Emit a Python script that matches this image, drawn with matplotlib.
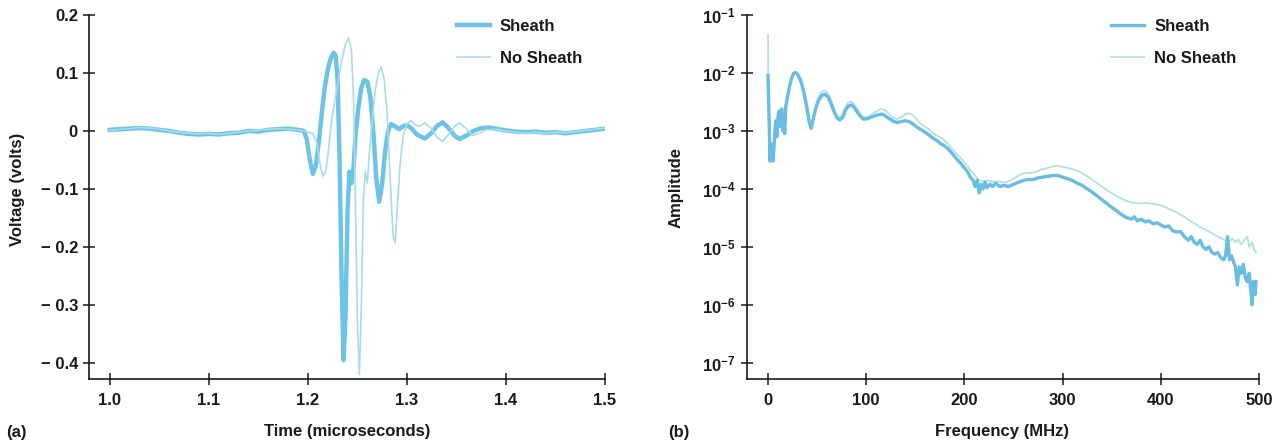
import matplotlib
matplotlib.use("Agg")
import matplotlib.pyplot as plt
from matplotlib.ticker import FixedLocator, FixedFormatter

plt.rcParams['font.family'] = ['Liberation Sans', 'DejaVu Sans']
plt.rcParams['mathtext.default'] = 'regular'

# ---------------- Panel (a): time domain ----------------
time_sheath = [1.000, 1.010, 1.020, 1.030, 1.040, 1.050, 1.060, 1.070, 1.080, 1.090,
               1.100, 1.110, 1.120, 1.130, 1.140, 1.150, 1.160, 1.170, 1.180, 1.190,
               1.196, 1.199, 1.202, 1.205, 1.208, 1.211, 1.214, 1.217, 1.220, 1.223,
               1.226, 1.228, 1.230, 1.232, 1.234, 1.236, 1.238, 1.240, 1.242, 1.244,
               1.246, 1.248, 1.251, 1.254, 1.257, 1.260, 1.263, 1.266, 1.269, 1.272,
               1.275, 1.278, 1.281, 1.284, 1.288, 1.292, 1.296, 1.300, 1.305, 1.310,
               1.318, 1.325, 1.330, 1.336, 1.342, 1.348, 1.353, 1.360, 1.367, 1.375,
               1.383, 1.390, 1.400, 1.410, 1.420, 1.430, 1.440, 1.450, 1.460, 1.470,
               1.480, 1.490, 1.500]
volt_sheath = [0.002, 0.003, 0.004, 0.005, 0.004, 0.002, 0.000, -0.003, -0.005, -0.006,
               -0.005, -0.006, -0.004, -0.003, 0.000, -0.001, 0.002, 0.003, 0.004, 0.002,
               0.000, -0.015, -0.050, -0.074, -0.060, -0.020, 0.030, 0.075, 0.105, 0.125,
               0.135, 0.130, 0.090, -0.050, -0.250, -0.395, -0.320, -0.140, -0.070, -0.090,
               -0.065, -0.010, 0.040, 0.075, 0.088, 0.085, 0.060, 0.000, -0.080, -0.122,
               -0.090, -0.035, 0.000, 0.012, 0.008, 0.003, 0.008, 0.010, 0.004, -0.006,
               -0.013, -0.003, 0.008, 0.015, 0.005, -0.008, -0.014, -0.008, 0.000, 0.005,
               0.006, 0.004, 0.001, -0.001, -0.002, -0.001, -0.003, -0.002, -0.004, -0.002,
               0.000, 0.002, 0.004]

time_nosheath = [1.000, 1.010, 1.020, 1.030, 1.040, 1.050, 1.060, 1.070, 1.080, 1.090,
                 1.100, 1.110, 1.120, 1.130, 1.140, 1.150, 1.160, 1.170, 1.180, 1.190,
                 1.200, 1.205, 1.209, 1.212, 1.215, 1.218, 1.221, 1.224, 1.227, 1.230,
                 1.234, 1.238, 1.241, 1.244, 1.246, 1.248, 1.250, 1.252, 1.254, 1.256,
                 1.258, 1.260, 1.262, 1.265, 1.268, 1.271, 1.274, 1.277, 1.280, 1.283,
                 1.286, 1.288, 1.290, 1.293, 1.296, 1.300, 1.304, 1.309, 1.313, 1.318,
                 1.325, 1.330, 1.336, 1.342, 1.348, 1.353, 1.360, 1.366, 1.373, 1.380,
                 1.390, 1.400, 1.410, 1.420, 1.430, 1.440, 1.450, 1.460, 1.470, 1.480,
                 1.490, 1.500]
volt_nosheath = [0.001, 0.003, 0.004, 0.006, 0.005, 0.003, 0.000, -0.002, -0.004, -0.005,
                 -0.004, -0.006, -0.004, -0.002, 0.000, 0.001, 0.003, 0.004, 0.003, 0.002,
                 -0.002, -0.004, -0.020, -0.055, -0.078, -0.070, -0.030, 0.020, 0.050, 0.080,
                 0.120, 0.150, 0.160, 0.140, 0.060, -0.120, -0.330, -0.420, -0.300, -0.120,
                 -0.070, -0.090, -0.040, 0.020, 0.070, 0.100, 0.110, 0.090, 0.030, -0.080,
                 -0.180, -0.193, -0.140, -0.060, -0.010, 0.012, 0.018, 0.010, 0.008, 0.014,
                 0.004, -0.010, -0.018, -0.006, 0.008, 0.014, 0.004, -0.008, -0.004, 0.002,
                 0.003, 0.000, -0.002, -0.004, -0.002, -0.004, -0.002, -0.003, -0.001, 0.001,
                 0.003, 0.005]

a_xticks = [1.0, 1.1, 1.2, 1.3, 1.4, 1.5]
a_xticklabels = ['1.0', '1.1', '1.2', '1.3', '1.4', '1.5']
a_yticks = [0.2, 0.1, 0.0, -0.1, -0.2, -0.3, -0.4]
a_yticklabels = ['0.2', '0.1', '0', '\u2212 0.1', '\u2212 0.2', '\u2212 0.3', '\u2212 0.4']

# ---------------- Panel (b): frequency domain ----------------
freq_sheath = [0, 1, 2, 3, 4, 5, 6, 7, 8, 9, 10, 11, 12, 13, 14, 15, 16, 17, 18, 20,
               22, 24, 26, 28, 30, 33, 36, 39, 42, 44, 46, 49, 52, 55, 58, 61, 64, 67, 70, 73,
               76, 79, 82, 85, 88, 91, 94, 97, 100, 104, 108, 112, 116, 120, 124, 128, 132, 136, 140, 144,
               148, 152, 156, 160, 164, 168, 172, 176, 180, 184, 188, 192, 196, 200, 203, 206, 209, 211, 213, 215,
               217, 219, 221, 223, 226, 229, 232, 236, 240, 245, 250, 255, 260, 265, 270, 275, 280, 285, 290, 295,
               300, 305, 310, 315, 320, 325, 330, 335, 340, 345, 350, 355, 360, 365, 370, 373, 376, 380, 384, 388,
               392, 396, 400, 404, 408, 412, 416, 420, 424, 428, 431, 434, 437, 440, 443, 446, 449, 452, 455, 458,
               461, 464, 466, 468, 470, 472, 474, 476, 478, 480, 482, 484, 486, 488, 490, 492, 493, 494, 496, 497]
amp_sheath = [9e-3, 2e-3, 3e-4, 6e-4, 4e-4, 3e-4, 5e-4, 1.0e-3, 1.5e-3, 8e-4,
              1.6e-3, 2.2e-3, 1.2e-3, 2.0e-3, 2.4e-3, 1.0e-3, 1.8e-3, 9e-4, 2.6e-3, 4.0e-3,
              6.0e-3, 8.0e-3, 9.8e-3, 1.02e-2, 9.5e-3, 7.5e-3, 5.0e-3, 2.8e-3, 1.4e-3, 1.1e-3,
              1.6e-3, 2.6e-3, 3.5e-3, 4.1e-3, 4.3e-3, 3.9e-3, 3.0e-3, 2.2e-3, 1.7e-3, 1.55e-3,
              1.7e-3, 2.3e-3, 2.7e-3, 2.8e-3, 2.5e-3, 2.1e-3, 1.8e-3, 1.6e-3, 1.6e-3, 1.7e-3,
              1.8e-3, 1.9e-3, 1.95e-3, 1.8e-3, 1.6e-3, 1.45e-3, 1.4e-3, 1.45e-3, 1.5e-3, 1.45e-3,
              1.3e-3, 1.15e-3, 1.05e-3, 9.5e-4, 8.5e-4, 7.5e-4, 6.8e-4, 6.0e-4, 5.5e-4, 4.8e-4,
              4.0e-4, 3.3e-4, 2.8e-4, 2.3e-4, 2.0e-4, 1.6e-4, 1.4e-4, 1.1e-4, 1.4e-4, 8.5e-5,
              1.2e-4, 1.0e-4, 1.3e-4, 1.05e-4, 1.2e-4, 1.1e-4, 1.25e-4, 1.1e-4, 1.15e-4, 1.1e-4,
              1.2e-4, 1.3e-4, 1.4e-4, 1.45e-4, 1.45e-4, 1.55e-4, 1.6e-4, 1.65e-4, 1.7e-4, 1.7e-4,
              1.6e-4, 1.5e-4, 1.4e-4, 1.25e-4, 1.15e-4, 1.0e-4, 8.8e-5, 7.6e-5, 6.5e-5, 5.6e-5,
              4.8e-5, 4.2e-5, 3.6e-5, 3.2e-5, 3.0e-5, 3.3e-5, 2.8e-5, 3.0e-5, 2.7e-5, 2.8e-5,
              2.5e-5, 2.6e-5, 2.4e-5, 2.2e-5, 2.3e-5, 1.9e-5, 1.8e-5, 1.85e-5, 1.5e-5, 1.3e-5,
              1.5e-5, 1.2e-5, 1.1e-5, 1.3e-5, 1.0e-5, 9e-6, 1.0e-5, 8e-6, 7.5e-6, 8e-6,
              6.5e-6, 6e-6, 7e-6, 1.5e-5, 6e-6, 7e-6, 5.5e-6, 4.5e-6, 2.2e-6, 4.5e-6,
              3.5e-6, 5e-6, 3e-6, 2.5e-6, 3.5e-6, 1.5e-6, 1.0e-6, 2.5e-6, 1.5e-6, 2.5e-6]

freq_nosheath = [0, 0.5, 1.5, 3, 5, 7, 9, 11, 13, 15, 17, 19, 22, 25, 28, 31, 34, 37, 40, 43,
                 45, 48, 51, 54, 57, 60, 63, 66, 69, 72, 75, 78, 81, 84, 87, 90, 93, 96, 99, 103,
                 107, 111, 115, 119, 123, 127, 131, 135, 139, 143, 147, 151, 155, 159, 163, 167, 171, 175, 179, 183,
                 187, 191, 195, 199, 203, 207, 211, 215, 219, 223, 227, 231, 235, 240, 245, 250, 255, 260, 265, 270,
                 275, 280, 285, 290, 295, 300, 305, 310, 315, 320, 325, 330, 335, 340, 345, 350, 355, 360, 365, 370,
                 375, 380, 385, 390, 395, 400, 405, 410, 415, 420, 425, 430, 435, 440, 445, 450, 455, 460, 465, 470,
                 473, 476, 479, 482, 485, 488, 490, 493, 495, 497]
amp_nosheath = [4.5e-2, 3e-3, 3e-4, 6e-4, 3.5e-4, 1.2e-3, 9e-4, 2.0e-3, 1.4e-3, 2.2e-3,
                1.0e-3, 3.0e-3, 6.5e-3, 9.5e-3, 1.05e-2, 9.5e-3, 7.5e-3, 5.0e-3, 2.8e-3, 1.4e-3,
                1.3e-3, 2.5e-3, 3.7e-3, 4.6e-3, 5.0e-3, 4.7e-3, 3.8e-3, 2.8e-3, 2.0e-3, 1.7e-3,
                1.8e-3, 2.4e-3, 3.0e-3, 3.2e-3, 3.0e-3, 2.5e-3, 2.1e-3, 1.8e-3, 1.7e-3, 1.8e-3,
                2.0e-3, 2.2e-3, 2.4e-3, 2.3e-3, 2.0e-3, 1.7e-3, 1.6e-3, 1.7e-3, 1.9e-3, 2.0e-3,
                1.9e-3, 1.6e-3, 1.35e-3, 1.2e-3, 1.1e-3, 9.5e-4, 8.5e-4, 7.8e-4, 7.0e-4, 6.0e-4,
                5.0e-4, 4.2e-4, 3.6e-4, 3.0e-4, 2.5e-4, 2.0e-4, 1.7e-4, 1.4e-4, 1.35e-4, 1.4e-4,
                1.35e-4, 1.3e-4, 1.35e-4, 1.3e-4, 1.35e-4, 1.5e-4, 1.7e-4, 1.85e-4, 1.9e-4, 1.9e-4,
                2.05e-4, 2.2e-4, 2.3e-4, 2.45e-4, 2.5e-4, 2.4e-4, 2.3e-4, 2.2e-4, 2.05e-4, 1.85e-4,
                1.65e-4, 1.45e-4, 1.25e-4, 1.1e-4, 9.5e-5, 8.5e-5, 7.5e-5, 6.8e-5, 6.2e-5, 5.8e-5,
                5.7e-5, 5.6e-5, 5.7e-5, 5.6e-5, 5.4e-5, 5.2e-5, 4.8e-5, 4.4e-5, 4.0e-5, 3.6e-5,
                3.2e-5, 2.8e-5, 2.5e-5, 2.2e-5, 2.0e-5, 1.8e-5, 1.6e-5, 1.45e-5, 1.3e-5, 1.25e-5,
                1.4e-5, 1.2e-5, 1.35e-5, 1.1e-5, 1.3e-5, 1.5e-5, 1.0e-5, 1.2e-5, 9e-6, 8e-6]

b_xticks = [0, 100, 200, 300, 400, 500]
b_xticklabels = ['0', '100', '200', '300', '400', '500']
b_yticks = [1e-1, 1e-2, 1e-3, 1e-4, 1e-5, 1e-6, 1e-7]
b_yticklabels = ['$10^{-1}$', '$10^{-2}$', '$10^{-3}$', '$10^{-4}$', '$10^{-5}$', '$10^{-6}$', '$10^{-7}$']

series_labels = ['Sheath', 'No Sheath']

# ---------------- Figure ----------------
W, H = 1278, 441
fig = plt.figure(figsize=(W / 100, H / 100), dpi=100)
ax1 = fig.add_axes([89 / W, 62 / H, 516 / W, 364 / H])
ax2 = fig.add_axes([747 / W, 62 / H, 512 / W, 364 / H])

txt_color = '#1a1a1a'
fs = 12

ax1.plot(time_sheath, volt_sheath, color='#6cc3e8', lw=3.2, label=series_labels[0],
         solid_joinstyle='round', zorder=2)
ax1.plot(time_nosheath, volt_nosheath, color='#a9dde6', lw=1.2, label=series_labels[1], zorder=3)
ax1.set_xlim(0.979, 1.5)
ax1.set_ylim(-0.4276, 0.2)
ax1.xaxis.set_major_locator(FixedLocator(a_xticks))
ax1.xaxis.set_major_formatter(FixedFormatter(a_xticklabels))
ax1.yaxis.set_major_locator(FixedLocator(a_yticks))
ax1.yaxis.set_major_formatter(FixedFormatter(a_yticklabels))

ax2.plot(freq_sheath, amp_sheath, color='#68bde3', lw=2.4, label=series_labels[0],
         solid_joinstyle='round', zorder=3)
ax2.plot(freq_nosheath, amp_nosheath, color='#b3e0e4', lw=1.3, label=series_labels[1], zorder=2)
ax2.set_yscale('log')
ax2.set_xlim(-21.4, 500)
ax2.set_ylim(10 ** -7.28, 1e-1)
ax2.xaxis.set_major_locator(FixedLocator(b_xticks))
ax2.xaxis.set_major_formatter(FixedFormatter(b_xticklabels))
ax2.yaxis.set_major_locator(FixedLocator(b_yticks))
ax2.yaxis.set_major_formatter(FixedFormatter(b_yticklabels))
ax2.yaxis.set_minor_locator(FixedLocator([]))

legend_anchor = {ax1: (0.985, 1.03), ax2: (0.985, 1.03)}
for ax in (ax1, ax2):
    ax.spines['top'].set_visible(False)
    ax.spines['right'].set_visible(False)
    for s in ('left', 'bottom'):
        ax.spines[s].set_linewidth(1.2)
        ax.spines[s].set_color(txt_color)
    ax.tick_params(axis='both', which='major', direction='inout', length=8, width=1.1,
                   colors=txt_color, labelsize=fs, pad=4)
    ax.tick_params(axis='x', pad=6)
    for lab in ax.get_xticklabels() + ax.get_yticklabels():
        lab.set_fontweight('bold')
    leg = ax.legend(loc='upper right', frameon=False, handlelength=2.0,
                    labelspacing=1.0, handletextpad=0.6, bbox_to_anchor=legend_anchor[ax],
                    prop={'weight': 'bold', 'size': fs})
    for t in leg.get_texts():
        t.set_color(txt_color)

ax1.set_ylabel('Voltage (volts)', fontsize=fs, fontweight='bold', color=txt_color)
ax1.yaxis.set_label_coords(-0.124, 0.52)
ax1.set_xlabel('Time (microseconds)', fontsize=fs, fontweight='bold', color=txt_color)
ax1.xaxis.set_label_coords(0.5, -0.123)

ax2.set_ylabel('Amplitude', fontsize=fs, fontweight='bold', color=txt_color)
ax2.yaxis.set_label_coords(-0.123, 0.525)
ax2.set_xlabel('Frequency (MHz)', fontsize=fs, fontweight='bold', color=txt_color)
ax2.xaxis.set_label_coords(0.498, -0.123)

fig.text(6 / W, 1 - 432 / H, '(a)', fontsize=fs, fontweight='bold', color=txt_color, va='center')
fig.text(668 / W, 1 - 432 / H, '(b)', fontsize=fs, fontweight='bold', color=txt_color, va='center')

fig.savefig('out.png', dpi=100, facecolor='white')
